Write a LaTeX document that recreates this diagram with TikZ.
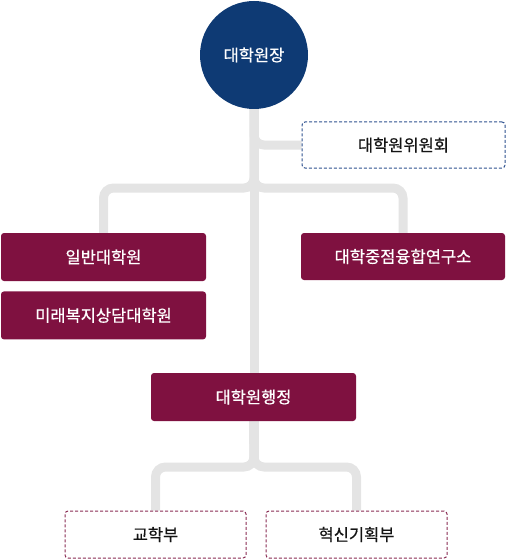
\documentclass[tikz,border=0pt]{standalone}
\usepackage{fontspec}
\setmainfont{Noto Sans CJK KR}[FakeBold=0.6,AutoFakeBold=0.6]
\usetikzlibrary{positioning,backgrounds}
\definecolor{deannavy}{HTML}{0E3A74}
\definecolor{unitred}{HTML}{7F1140}
\definecolor{linkgray}{HTML}{E4E4E4}
\definecolor{dashblue}{HTML}{2F5290}
\definecolor{dashred}{HTML}{8A2C54}

\begin{document}
\begin{tikzpicture}[x=1pt, y=-1pt, font=\fontsize{16.5}{19}\selectfont\bfseries,
  unitbox/.style={fill=unitred, text=white, rounded corners=3pt,
    minimum width=205pt, minimum height=48pt, inner sep=0pt},
  dashbox/.style={draw, dash pattern=on 3pt off 2pt, line width=1pt,
    rounded corners=3pt, fill=white, text=black!92,
    minimum width=181pt, minimum height=47pt, inner sep=0pt},
  link/.style={draw=linkgray, line width=9pt, rounded corners=10pt}]
  \useasboundingbox (0,0) rectangle (506,559);

  % head
  \node[circle, fill=deannavy, text=white, minimum size=108pt, inner sep=0pt]
    (dean) at (254,55) {대학원장};
  \node[dashbox, draw=dashblue, minimum width=203pt, minimum height=46pt]
    (committee) at (403.5,145) {대학원위원회};

  % schools and institute
  \node[unitbox] (grad) at (103.5,257) {일반대학원};
  \node[unitbox, below=10pt of grad] (welfare) {미래복지상담대학원};
  \node[unitbox, minimum width=204pt, minimum height=47pt]
    (inst) at (403,256.5) {대학중점융합연구소};

  % administration
  \node[unitbox] (admin) at (253.5,397) {대학원행정};
  \node[dashbox, draw=dashred] (acad) at (155.5,534.5) {교학부};
  \node[dashbox, draw=dashred] (innov) at (356.5,534.5) {혁신기획부};

  \begin{scope}[on background layer]
    \coordinate (busup) at (254,188);
    \coordinate (buslow) at (254,467);
    \draw[link] (dean.south) -- (buslow);
    \draw[link] (dean.south) |- (committee.west);
    \draw[link] (dean.south) -- (busup) -| (grad.north);
    \draw[link] (dean.south) -- (busup) -| (inst.north);
    \draw[link] (admin.south) -- (buslow) -| (acad.north);
    \draw[link] (admin.south) -- (buslow) -| (innov.north);
  \end{scope}
\end{tikzpicture}
\end{document}
